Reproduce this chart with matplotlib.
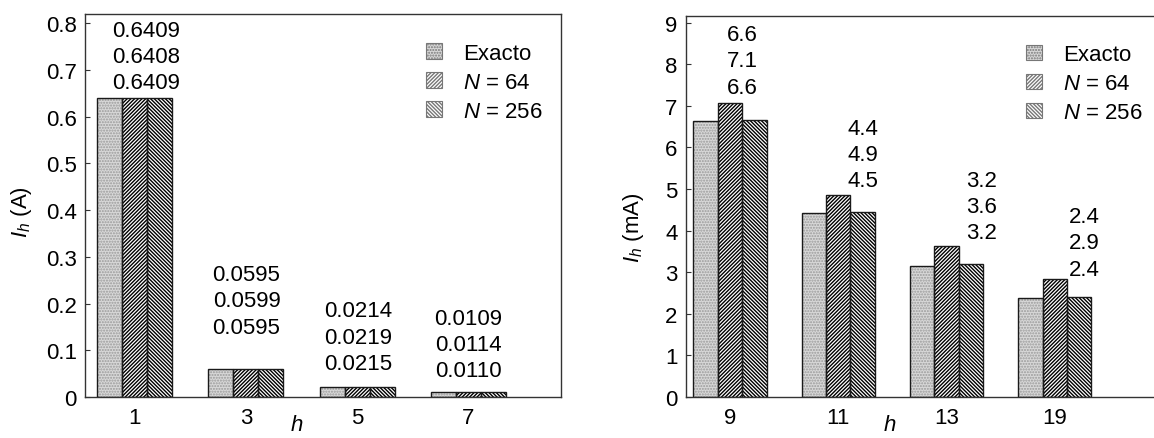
import matplotlib
matplotlib.use("Agg")
import matplotlib.pyplot as plt
import numpy as np

plt.rcParams['font.family'] = ['Liberation Sans', 'DejaVu Sans']
plt.rcParams['mathtext.fontset'] = 'custom'
plt.rcParams['mathtext.rm'] = 'Liberation Sans'
plt.rcParams['mathtext.it'] = 'Liberation Sans:italic'
plt.rcParams['hatch.linewidth'] = 1.0

# ---------------- data ----------------
series_names = ["Exacto", "$\\mathit{N}$ = 64", "$\\mathit{N}$ = 256"]

h_left = ["1", "3", "5", "7"]
exacto_left = [0.6409, 0.0595, 0.0214, 0.0109]
n64_left = [0.6408, 0.0599, 0.0219, 0.0114]
n256_left = [0.6409, 0.0595, 0.0215, 0.0110]
labels_left = [["0.6409", "0.6408", "0.6409"],
               ["0.0595", "0.0599", "0.0595"],
               ["0.0214", "0.0219", "0.0215"],
               ["0.0109", "0.0114", "0.0110"]]

h_right = ["9", "11", "13", "19"]
exacto_right = [6.63, 4.42, 3.16, 2.37]
n64_right = [7.07, 4.86, 3.64, 2.84]
n256_right = [6.66, 4.45, 3.19, 2.40]
labels_right = [["6.6", "7.1", "6.6"],
                ["4.4", "4.9", "4.5"],
                ["3.2", "3.6", "3.2"],
                ["2.4", "2.9", "2.4"]]

# label placement offsets (points): x shift of the text column, y of lowest line above tallest bar
lab_dx_left = [8.6, 0.5, 0.5, 0.0]
lab_dy_left = [10.8, 30.2, 16.9, 15.1]
lab_dx_right = [8.6, 18.0, 25.2, 21.0]
lab_dy_right = [11.3, 10.1, 9.1, 7.0]
line_step = 18.9  # points between annotation lines

W, H = 1154, 439
fig = plt.figure(figsize=(W / 100, H / 100), dpi=100)
axL = fig.add_axes([85 / W, 41 / H, 476 / W, 383 / H])
axR = fig.add_axes([686 / W, 41 / H, 470 / W, 381 / H])

styles = [
    dict(fc="#d8d8d8", hatch="." * 6, hc="#9a9a9a"),
    dict(fc="white", hatch="/" * 9, hc="black"),
    dict(fc="white", hatch="\\" * 9, hc="black"),
]
FS = 16
bw = 0.225


def draw(ax, cats, series, labels, dxs, dys, ylim, yticks, yticklabels):
    x = np.arange(len(cats))
    handles = []
    for i, (vals, st) in enumerate(zip(series, styles)):
        xs = x + (i - 1) * bw
        ax.bar(xs, vals, bw, color=st["fc"], hatch=st["hatch"], edgecolor=st["hc"],
               linewidth=0, zorder=2)
        ax.bar(xs, vals, bw, fill=False, edgecolor="#1a1a1a", linewidth=1.0, zorder=3)
        handles.append(plt.Rectangle((0, 0), 1, 1, facecolor=st["fc"], hatch=st["hatch"],
                                     edgecolor="#777777", linewidth=0.8))
    for j in range(len(cats)):
        top = max(s[j] for s in series)
        for k, txt in enumerate(labels[j]):
            ax.annotate(txt, xy=(x[j], top), xytext=(dxs[j], dys[j] + (2 - k) * line_step),
                        textcoords="offset points", ha="center", va="center",
                        fontsize=FS, color="black", zorder=5)
    ax.set_ylim(*ylim)
    ax.set_yticks(yticks)
    ax.set_yticklabels(yticklabels)
    ax.set_xticks(x)
    ax.set_xticklabels(cats)
    ax.tick_params(axis="x", length=0, pad=7, labelsize=FS)
    ax.tick_params(axis="y", direction="in", length=3.5, width=0.8, pad=6.0,
                   labelsize=FS, color="#333333")
    for sp in ax.spines.values():
        sp.set_color("#333333")
        sp.set_linewidth(1.0)
    return handles


hL = draw(axL, h_left, [exacto_left, n64_left, n256_left], labels_left,
          lab_dx_left, lab_dy_left, (0, 0.82),
          [0, 0.1, 0.2, 0.3, 0.4, 0.5, 0.6, 0.7, 0.8],
          ["0", "0.1", "0.2", "0.3", "0.4", "0.5", "0.6", "0.7", "0.8"])
axL.set_xlim(-0.445, 3.831)

hR = draw(axR, h_right, [exacto_right, n64_right, n256_right], labels_right,
          lab_dx_right, lab_dy_right, (0, 9.16),
          list(range(10)), [str(v) for v in range(10)])
axR.set_xlim(-0.406, 3.934)
axR.spines["right"].set_visible(False)

for ax, hs, anchor in ((axL, hL, (0.716, 0.925)), (axR, hR, (0.724, 0.926))):
    ax.legend(hs, series_names,
              loc="upper left", bbox_to_anchor=anchor, frameon=False, fontsize=FS,
              handlelength=0.72, handleheight=0.72, handletextpad=0.95, labelspacing=0.36,
              borderpad=0, borderaxespad=0)

axL.set_ylabel("$\\mathit{I_h}$ (A)", fontsize=FS)
axL.yaxis.set_label_coords(-85 / 476 + 21 / 476, (398 - 212) / 383)
axR.set_ylabel("$\\mathit{I_h}$ (mA)", fontsize=FS)
axR.yaxis.set_label_coords((634 - 686) / 470, (398 - 228) / 381)

axL.set_xlabel("h", fontsize=FS, fontstyle="italic")
axL.xaxis.set_label_coords((297 - 85) / 476, -(426 - 398) / 383)
axR.set_xlabel("h", fontsize=FS, fontstyle="italic")
axR.xaxis.set_label_coords((890 - 686) / 470, -(426 - 398) / 381)
for a in (axL.xaxis.label, axR.xaxis.label, axL.yaxis.label, axR.yaxis.label):
    a.set_va("center")

fig.savefig("out.png", dpi=100)
